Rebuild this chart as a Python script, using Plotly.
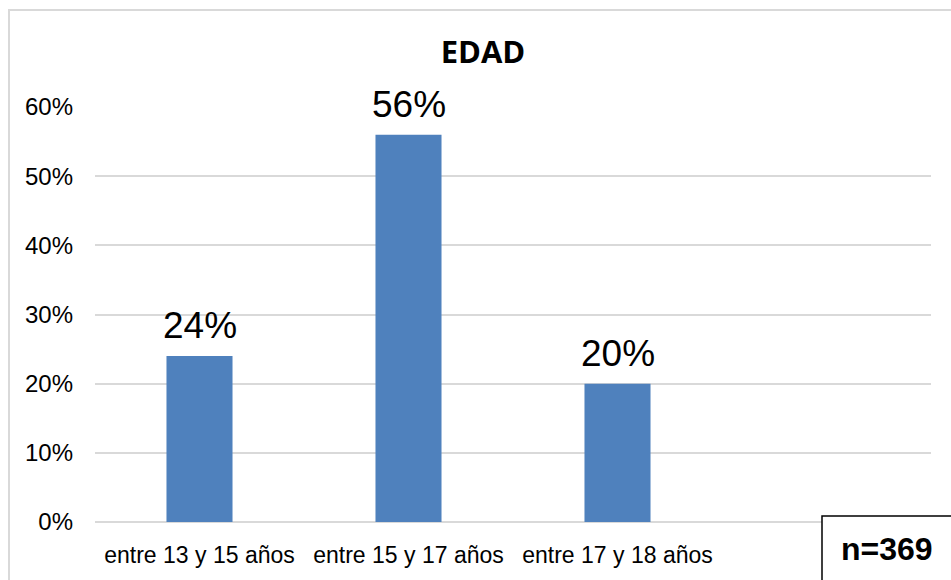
import plotly.graph_objects as go

categories = ["entre 13 y 15 años", "entre 15 y 17 años", "entre 17 y 18 años"]
values = [0.24, 0.56, 0.20]
labels = ["24%", "56%", "20%"]
tick_vals = [0, 0.1, 0.2, 0.3, 0.4, 0.5, 0.6]
tick_text = ["0%", "10%", "20%", "30%", "40%", "50%", "60%"]
title_text = "EDAD"
n_text = "n=369"

W, H = 951, 580
L, R, T, B = 95, 951 - 931, 107, 580 - 526
pw, ph = W - L - R, H - T - B

def px(x):
    return (x - L) / pw

def py(y):
    return (H - B - y) / ph

fig = go.Figure(go.Bar(
    x=categories, y=values,
    marker=dict(color="#4f81bd", line=dict(width=0)),
    width=0.316, cliponaxis=False, hoverinfo="skip",
))

annotations = [
    dict(text=t, x=c, y=v, xref="x", yref="y", xanchor="center", yanchor="bottom",
         yshift=8, showarrow=False,
         font=dict(family="Liberation Sans, Arial", size=37, color="black"))
    for c, v, t in zip(categories, values, labels)
]
annotations.append(
    dict(text="<b>" + n_text + "</b>", xref="paper", yref="paper",
         x=px(887), y=py(553), xanchor="center", yanchor="middle", showarrow=False,
         font=dict(family="Liberation Sans, Arial", size=32, color="black"))
)

fig.update_layout(
    width=W, height=H,
    margin=dict(l=L, r=R, t=T, b=B),
    paper_bgcolor="white", plot_bgcolor="white",
    showlegend=False,
    title=dict(text="<b>" + title_text + "</b>", x=483 / W, xref="container", xanchor="center",
               y=1 - 52 / H, yref="container", yanchor="middle",
               font=dict(family="Open Sans", size=31, color="black")),
    xaxis=dict(range=[-0.5, 3.5], showgrid=False, zeroline=False, showline=False,
               tickfont=dict(family="Liberation Sans, Arial", size=23, color="black"),
               ticks="", ticklabelstandoff=17, fixedrange=True),
    yaxis=dict(range=[0, 0.6], tickvals=tick_vals, ticktext=tick_text,
               showgrid=True, gridcolor="#d9d9d9", gridwidth=1.5,
               zeroline=True, zerolinecolor="#d9d9d9", zerolinewidth=1.5,
               showline=False, ticks="", ticklabelstandoff=21, fixedrange=True,
               tickfont=dict(family="Liberation Sans, Arial", size=24, color="black")),
    shapes=[
        dict(type="rect", xref="paper", yref="paper",
             x0=px(9), x1=px(951 + 20), y0=py(9), y1=py(580 + 20),
             line=dict(color="#d9d9d9", width=2), fillcolor="rgba(0,0,0,0)", layer="below"),
        dict(type="rect", xref="paper", yref="paper",
             x0=px(822), x1=px(951 + 20), y0=py(520), y1=py(580 + 20),
             line=dict(color="black", width=1.5), fillcolor="white", layer="above"),
    ],
    annotations=annotations,
)

fig.write_html(
    "out.html",
    config={"displayModeBar": False},
    post_script="document.body.style.margin='0';document.body.style.overflow='hidden';",
)
